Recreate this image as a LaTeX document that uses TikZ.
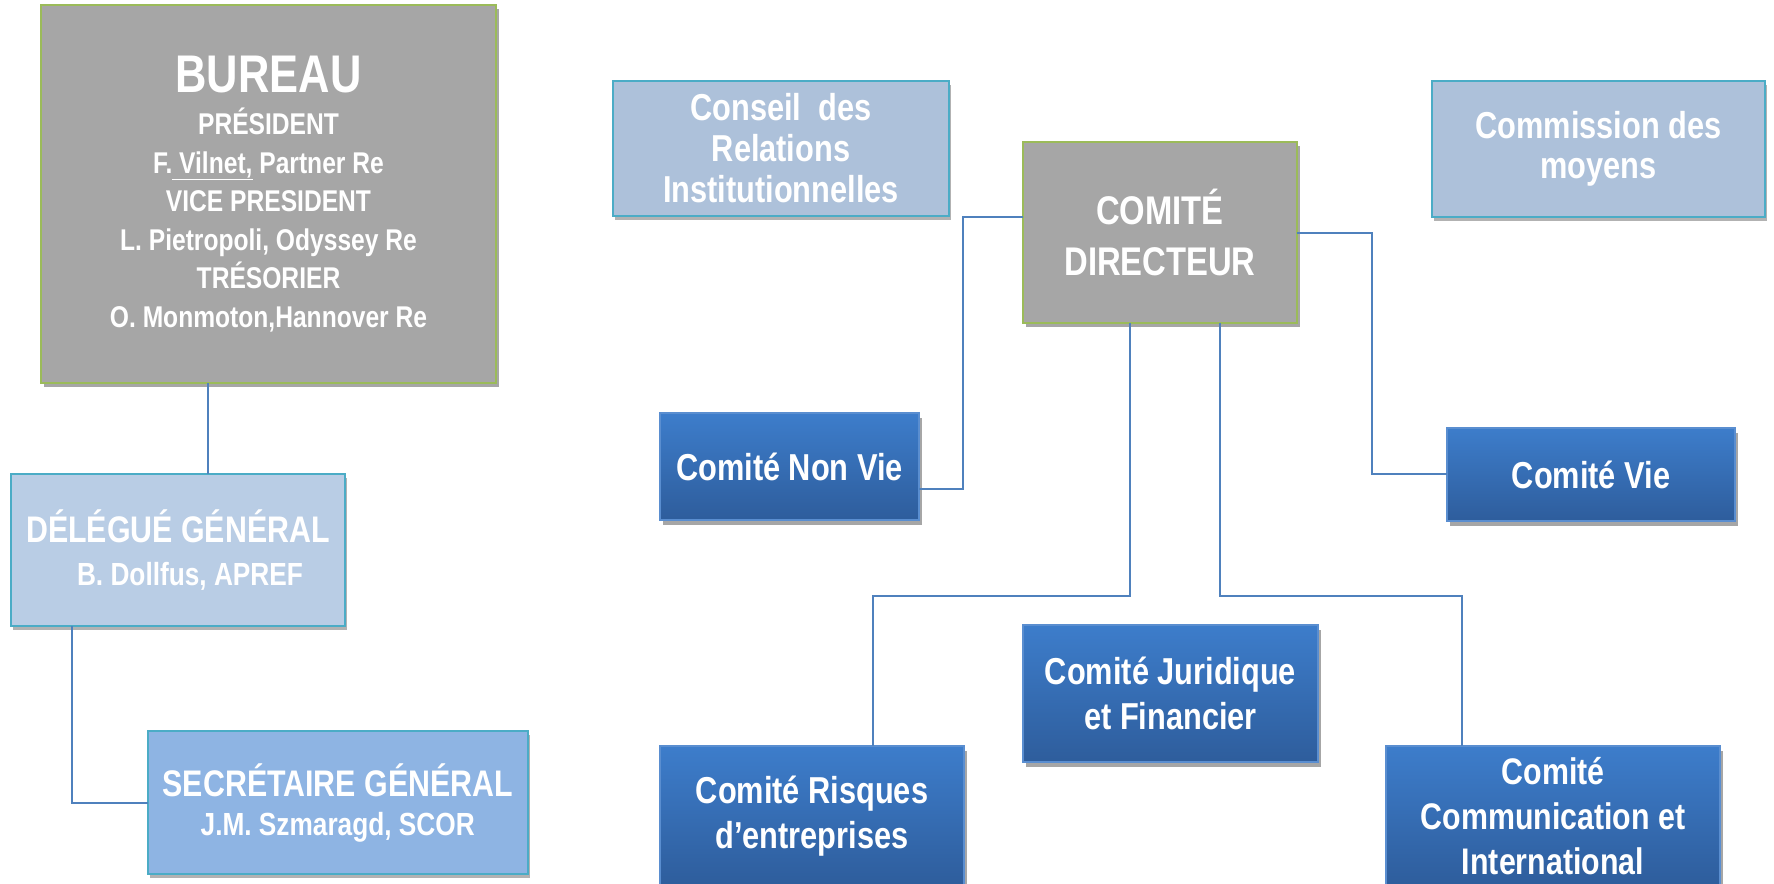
\documentclass[tikz,border=0pt]{standalone}
\usepackage{fontspec}
\setmainfont{Liberation Sans}[FakeStretch=0.82]
\usetikzlibrary{shadows}
\definecolor{boxgray}{HTML}{A6A6A6}
\definecolor{boxgreen}{HTML}{9BBB59}
\definecolor{aqua}{HTML}{4BACC6}
\definecolor{lightA}{HTML}{B9CDE5}
\definecolor{lightB}{HTML}{ADC1DA}
\definecolor{midblue}{HTML}{8EB4E3}
\definecolor{darktop}{HTML}{3D7DCB}
\definecolor{darkbot}{HTML}{2E5D9C}
\definecolor{darkedge}{HTML}{5A8ED0}
\definecolor{lineblue}{HTML}{4F81BD}
\tikzset{
  base/.style={rectangle, inner sep=0pt, outer sep=0pt, align=center, text=white,
    font=\bfseries\fontsize{37}{42}\selectfont},
  graybox/.style={base, fill=boxgray, draw=boxgreen, line width=2.5pt,
    drop shadow={shadow xshift=3pt, shadow yshift=-4pt, opacity=0.35, fill=black}},
  lightbox/.style={base, fill=lightB, draw=aqua, line width=2.5pt,
    drop shadow={shadow xshift=2pt, shadow yshift=-4pt, opacity=0.3, fill=black}},
  darkbox/.style={base, top color=darktop, bottom color=darkbot, draw=darkedge, line width=1.5pt,
    drop shadow={shadow xshift=3pt, shadow yshift=-5pt, opacity=0.35, fill=black},
    font=\bfseries\fontsize{37.5}{45}\selectfont},
  conn/.style={draw=lineblue, line width=2pt}
}
\begin{document}
\begin{tikzpicture}[x=1pt,y=-1pt]
\useasboundingbox (0,0) rectangle (1774,883);
\fill[white] (0,0) rectangle (1774,883);

% left column
\node[graybox, minimum width=455pt, minimum height=378pt,
      font=\bfseries\fontsize{30}{38.5}\selectfont] (bureau) at (268.5,194)
  {{\fontsize{53}{53}\selectfont BUREAU}\\[4pt]
   PRÉSIDENT\\
   F.\underline{\ Vilnet,} Partner Re\\
   VICE PRESIDENT\\
   L. Pietropoli, Odyssey Re\\
   TRÉSORIER\\
   O. Monmoton,Hannover Re};

\node[lightbox, fill=lightA, minimum width=334pt, minimum height=152pt,
      font=\bfseries\fontsize{37}{45}\selectfont] (deleg) at (178,550)
  {DÉLÉGUÉ GÉNÉRAL\\[-2pt]
   {\fontsize{32}{36}\selectfont\hspace*{24pt}B. Dollfus, APREF}};

\node[lightbox, fill=midblue, minimum width=380pt, minimum height=143pt,
      font=\bfseries\fontsize{37}{45}\selectfont] (secr) at (337.75,802.5)
  {SECRÉTAIRE GÉNÉRAL\\[-6pt]
   {\fontsize{32}{36}\selectfont J.M. Szmaragd, SCOR}};

% top row
\node[lightbox, minimum width=336pt, minimum height=135pt,
      font=\bfseries\fontsize{37.5}{41}\selectfont] (conseil) at (781,148.5)
  {Conseil\ \ des\\ Relations\\ Institutionnelles};

\node[graybox, minimum width=274pt, minimum height=181pt,
      font=\bfseries\fontsize{40}{51}\selectfont] (cd) at (1160,232.5)
  {COMITÉ\\ DIRECTEUR};

\node[lightbox, minimum width=333pt, minimum height=136pt,
      font=\bfseries\fontsize{37.5}{40}\selectfont] (commission) at (1598.5,149)
  {Commission des\\ moyens};

% committees
\node[darkbox, minimum width=259pt, minimum height=107pt] (nonvie) at (789.5,466.5)
  {Comité Non Vie};
\node[darkbox, minimum width=288pt, minimum height=93pt] (vie) at (1591,474.5)
  {Comité Vie};
\node[darkbox, minimum width=295pt, minimum height=137pt] (jur) at (1170.5,693.5)
  {Comité Juridique\\ et Financier};
\node[darkbox, minimum width=304pt, minimum height=140pt] (risques) at (812,816)
  {Comité Risques\\ d’entreprises};
\node[darkbox, minimum width=334pt, minimum height=140pt,
      font=\bfseries\fontsize{37}{45}\selectfont] (comm) at (1553,816)
  {Comité\\ Communication et\\ International};

% connectors
\draw[conn] (bureau.south -| 208,0) -- (deleg.north -| 208,0);
\draw[conn] (deleg.south -| 71.5,0) |- (secr.west);
\draw[conn] (cd.west |- 0,217) -| (962.5,489) -- (nonvie.east |- 0,489);
\draw[conn] (cd.east |- 0,233) -| (1371.5,474) -- (vie.west |- 0,474);
\draw[conn] (cd.south -| 1130,0) -- (1130,596) -| (risques.north -| 873,0);
\draw[conn] (cd.south -| 1220,0) -- (1220,596) -| (comm.north -| 1462,0);
\end{tikzpicture}
\end{document}
